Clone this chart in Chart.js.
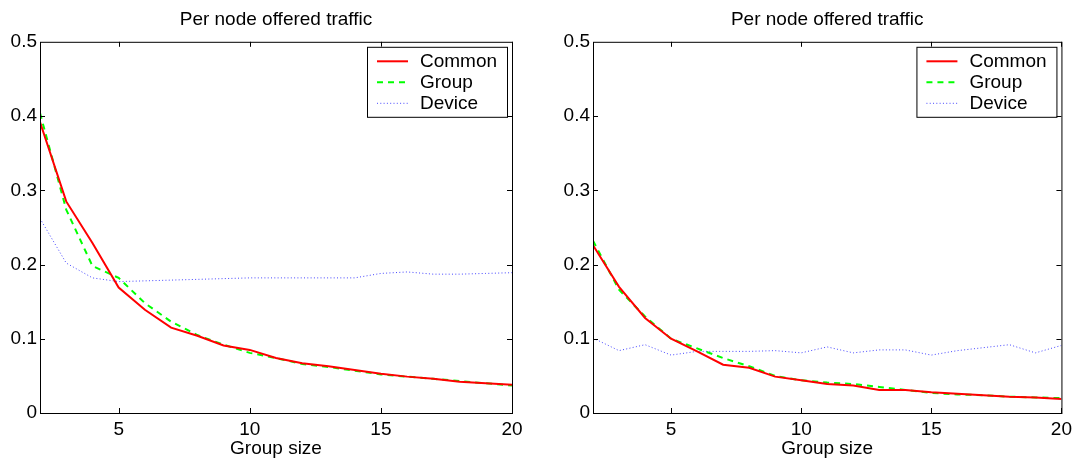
<!DOCTYPE html>
<html>
<head>
<meta charset="utf-8">
<script src="https://cdn.jsdelivr.net/npm/chart.js@4.4.1/dist/chart.umd.min.js"></script>
<style>
  html, body { margin: 0; padding: 0; background: #fff; }
  #wrap { position: relative; width: 1077px; height: 458px; }
  canvas { position: absolute; top: 0; }
</style>
</head>
<body>
<div id="wrap">
  <canvas id="left" width="540" height="458" style="left:0"></canvas>
  <canvas id="right" width="524" height="458" style="left:553px"></canvas>
</div>
<script>
const groupSizes = [2, 3, 4, 5, 6, 7, 8, 9, 10, 11, 12, 13, 14, 15, 16, 17, 18, 19, 20];
const xTicks = [5, 10, 15, 20];
const seriesNames = ['Common', 'Group', 'Device'];

// left panel
const leftCommon = [0.392, 0.285, 0.229, 0.169, 0.139, 0.115, 0.104, 0.091, 0.085, 0.074, 0.067, 0.063, 0.058, 0.053, 0.049, 0.046, 0.042, 0.040, 0.038];
const leftGroup  = [0.404, 0.274, 0.198, 0.182, 0.148, 0.123, 0.105, 0.092, 0.081, 0.074, 0.066, 0.062, 0.057, 0.052, 0.049, 0.046, 0.043, 0.040, 0.037];
const leftDevice = [0.262, 0.202, 0.182, 0.177, 0.178, 0.179, 0.180, 0.181, 0.182, 0.182, 0.182, 0.182, 0.182, 0.188, 0.190, 0.187, 0.187, 0.188, 0.189];

// right panel
const rightCommon = [0.226, 0.170, 0.128, 0.100, 0.083, 0.065, 0.061, 0.049, 0.044, 0.039, 0.037, 0.031, 0.031, 0.028, 0.026, 0.024, 0.022, 0.021, 0.019];
const rightGroup  = [0.232, 0.166, 0.130, 0.100, 0.087, 0.074, 0.063, 0.050, 0.044, 0.041, 0.039, 0.035, 0.031, 0.027, 0.025, 0.024, 0.022, 0.021, 0.020];
const rightDevice = [0.101, 0.084, 0.092, 0.078, 0.083, 0.083, 0.083, 0.084, 0.081, 0.089, 0.081, 0.085, 0.085, 0.078, 0.084, 0.088, 0.092, 0.081, 0.091];

Chart.defaults.font.family = '"Liberation Sans", Arial, sans-serif';
Chart.defaults.font.size = 19;
Chart.defaults.color = '#000';

const styles = [
    { borderColor: 'rgb(255,0,0)', borderWidth: 2, borderDash: [] },
    { borderColor: 'rgb(0,255,0)', borderWidth: 2, borderDash: [6, 5] },
    { borderColor: 'rgb(70,70,255)', borderWidth: 1, borderDash: [1, 2.3] }
];

// box frame, inward ticks on all sides and the legend in the top right corner
const matlabAxes = {
    id: 'matlabAxes',
    afterDatasetsDraw(chart) {
        const {ctx, chartArea: {left, right, top, bottom}, scales: {x, y}} = chart;
        ctx.save();
        ctx.strokeStyle = '#000';
        ctx.lineWidth = 1;
        ctx.setLineDash([]);
        ctx.strokeRect(left + 0.5, top + 0.5, right - left, bottom - top);
        ctx.beginPath();
        xTicks.forEach(v => {
            const px = Math.round(x.getPixelForValue(v)) + 0.5;
            ctx.moveTo(px, bottom); ctx.lineTo(px, bottom - 5);
            ctx.moveTo(px, top); ctx.lineTo(px, top + 5);
        });
        [0.1, 0.2, 0.3, 0.4].forEach(v => {
            const py = Math.round(y.getPixelForValue(v)) + 0.5;
            ctx.moveTo(left, py); ctx.lineTo(left + 5, py);
            ctx.moveTo(right, py); ctx.lineTo(right - 5, py);
        });
        ctx.stroke();

        const bx = right - 145, by = top + 5, bw = 140, bh = 70;
        ctx.fillStyle = '#fff';
        ctx.fillRect(bx, by, bw, bh);
        ctx.strokeRect(bx + 0.5, by + 0.5, bw, bh);
        ctx.font = '19px "Liberation Sans", Arial, sans-serif';
        ctx.textBaseline = 'middle';
        chart.data.datasets.forEach((ds, i) => {
            const ly = by + 14 + i * 21;
            ctx.strokeStyle = ds.borderColor;
            ctx.lineWidth = ds.borderWidth;
            ctx.setLineDash(ds.borderDash);
            ctx.beginPath();
            ctx.moveTo(bx + 10, ly + 0.5);
            ctx.lineTo(bx + 41, ly + 0.5);
            ctx.stroke();
            ctx.fillStyle = '#000';
            ctx.fillText(ds.label, bx + 53, ly + 1);
        });
        ctx.restore();
    }
};

function makeChart(id, series, padRight) {
    const datasets = series.map((vals, i) => ({
        label: seriesNames[i],
        data: groupSizes.map((g, j) => ({x: g, y: vals[j]})),
        borderColor: styles[i].borderColor,
        borderWidth: styles[i].borderWidth,
        borderDash: styles[i].borderDash,
        pointRadius: 0,
        tension: 0,
        fill: false
    }));
    return new Chart(document.getElementById(id), {
        type: 'line',
        data: {datasets},
        options: {
            responsive: false,
            animation: false,
            layout: {padding: {right: padRight}},
            scales: {
                x: {
                    type: 'linear',
                    min: 2,
                    max: 20,
                    afterBuildTicks: axis => { axis.ticks = xTicks.map(v => ({value: v})); },
                    afterFit: axis => { axis.height = 45; },
                    grid: {display: false, drawTicks: false},
                    border: {display: false},
                    ticks: {padding: 5, maxRotation: 0},
                    title: {display: true, text: 'Group size', padding: 0, font: {size: 19, lineHeight: 1}}
                },
                y: {
                    min: 0,
                    max: 0.5,
                    afterFit: axis => { axis.width = 40; },
                    grid: {display: false, drawTicks: false},
                    border: {display: false},
                    ticks: {stepSize: 0.1, padding: 3}
                }
            },
            plugins: {
                legend: {display: false},
                tooltip: {enabled: false},
                title: {
                    display: true,
                    fullSize: false,
                    text: 'Per node offered traffic',
                    font: {size: 19, weight: 'normal'},
                    padding: {top: 8, bottom: 11}
                }
            }
        },
        plugins: [matlabAxes]
    });
}

makeChart('left', [leftCommon, leftGroup, leftDevice], 28);
makeChart('right', [rightCommon, rightGroup, rightDevice], 11);
</script>
</body>
</html>
